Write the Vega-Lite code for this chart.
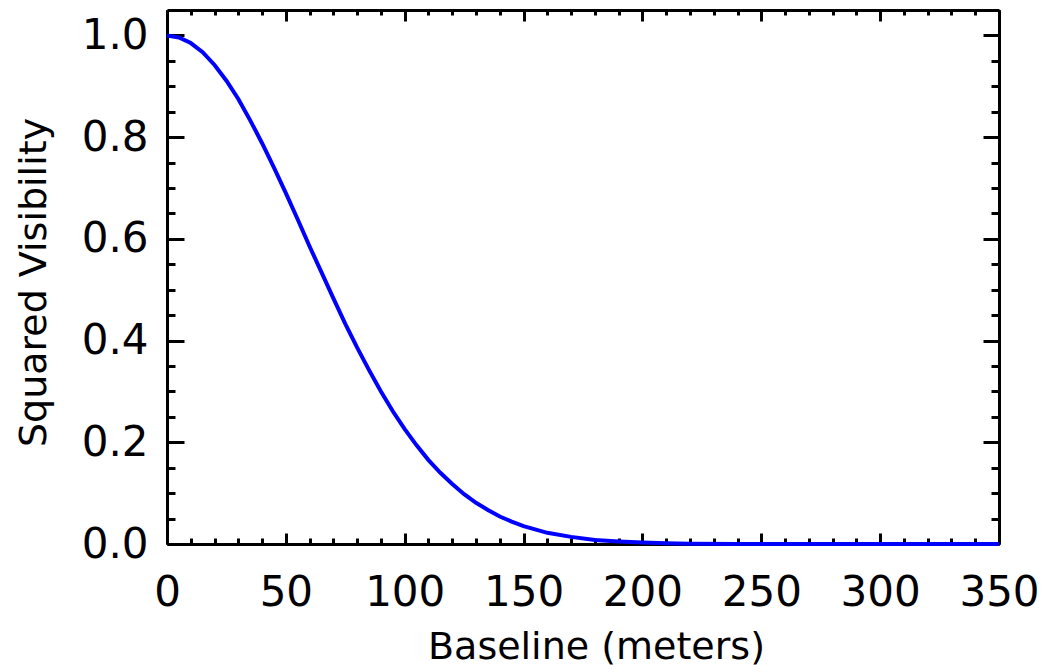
{
  "$schema": "https://vega.github.io/schema/vega-lite/v6.json",
  "width": 832,
  "height": 534,
  "autosize": {"type": "none"},
  "padding": {"left": 167, "top": 10, "right": 45, "bottom": 128},
  "background": "white",
  "config": {
    "view": {"stroke": null},
    "axis": {
      "grid": false,
      "domainColor": "black",
      "domainWidth": 3,
      "tickColor": "black",
      "tickWidth": 3,
      "labelFont": "DejaVu Sans",
      "titleFont": "DejaVu Sans",
      "labelColor": "black",
      "titleColor": "black",
      "titleFontWeight": "normal",
      "labelFontSize": 42,
      "titleFontSize": 38
    }
  },
  "data": {
    "values": [
      {"b": 0, "v": 1.0},
      {"b": 5, "v": 0.996},
      {"b": 10, "v": 0.985},
      {"b": 15, "v": 0.967},
      {"b": 20, "v": 0.942},
      {"b": 25, "v": 0.911},
      {"b": 30, "v": 0.875},
      {"b": 35, "v": 0.833},
      {"b": 40, "v": 0.788},
      {"b": 45, "v": 0.740},
      {"b": 50, "v": 0.690},
      {"b": 55, "v": 0.638},
      {"b": 60, "v": 0.585},
      {"b": 65, "v": 0.534},
      {"b": 70, "v": 0.483},
      {"b": 75, "v": 0.433},
      {"b": 80, "v": 0.386},
      {"b": 85, "v": 0.342},
      {"b": 90, "v": 0.300},
      {"b": 95, "v": 0.261},
      {"b": 100, "v": 0.226},
      {"b": 105, "v": 0.194},
      {"b": 110, "v": 0.165},
      {"b": 115, "v": 0.140},
      {"b": 120, "v": 0.118},
      {"b": 125, "v": 0.098},
      {"b": 130, "v": 0.081},
      {"b": 135, "v": 0.067},
      {"b": 140, "v": 0.054},
      {"b": 145, "v": 0.044},
      {"b": 150, "v": 0.035},
      {"b": 160, "v": 0.022},
      {"b": 170, "v": 0.014},
      {"b": 180, "v": 0.008},
      {"b": 190, "v": 0.005},
      {"b": 200, "v": 0.003},
      {"b": 210, "v": 0.0014},
      {"b": 220, "v": 0.0007},
      {"b": 240, "v": 0.0002},
      {"b": 260, "v": 0.0},
      {"b": 300, "v": 0.0},
      {"b": 350, "v": 0.0}
    ]
  },
  "layer": [
    {
      "mark": {"type": "line", "opacity": 0},
      "encoding": {
        "x": {"field": "b", "type": "quantitative", "scale": {"domain": [0, 350], "nice": false, "zero": false},
          "axis": {"orient": "bottom", "values": [10,20,30,40,60,70,80,90,110,120,130,140,160,170,180,190,210,220,230,240,260,270,280,290,310,320,330,340], "tickSize": -6, "labels": false, "domain": false, "title": null}},
        "y": {"field": "v", "type": "quantitative", "scale": {"domain": [0, 1.05], "nice": false, "zero": false},
          "axis": {"orient": "left", "values": [0.05,0.1,0.15,0.25,0.3,0.35,0.45,0.5,0.55,0.65,0.7,0.75,0.85,0.9,0.95], "tickSize": -8, "labels": false, "domain": false, "title": null}}
      }
    },
    {
      "mark": {"type": "line", "opacity": 0},
      "encoding": {
        "x": {"field": "b", "type": "quantitative", "scale": {"domain": [0, 350], "nice": false, "zero": false},
          "axis": {"orient": "top", "values": [0,10,20,30,40,50,60,70,80,90,100,110,120,130,140,150,160,170,180,190,200,210,220,230,240,250,260,270,280,290,300,310,320,330,340,350], "tickSize": -5, "labels": false, "domain": true, "title": null}},
        "y": {"field": "v", "type": "quantitative", "scale": {"domain": [0, 1.05], "nice": false, "zero": false},
          "axis": {"orient": "right", "values": [0.05,0.1,0.15,0.25,0.3,0.35,0.45,0.5,0.55,0.65,0.7,0.75,0.85,0.9,0.95], "tickSize": -8, "labels": false, "domain": true, "title": null}}
      }
    },
    {
      "mark": {"type": "line", "opacity": 0},
      "encoding": {
        "x": {"field": "b", "type": "quantitative", "scale": {"domain": [0, 350], "nice": false, "zero": false},
          "axis": {"orient": "top", "values": [0,50,100,150,200,250,300,350], "tickSize": -11, "labels": false, "domain": false, "title": null}},
        "y": {"field": "v", "type": "quantitative", "scale": {"domain": [0, 1.05], "nice": false, "zero": false},
          "axis": {"orient": "right", "values": [0,0.2,0.4,0.6,0.8,1.0], "tickSize": -16, "labels": false, "domain": false, "title": null}}
      }
    },
    {
      "mark": {"type": "line", "color": "#0000ff", "strokeWidth": 4},
      "encoding": {
        "x": {"field": "b", "type": "quantitative", "scale": {"domain": [0, 350], "nice": false, "zero": false},
          "axis": {"orient": "bottom", "values": [0,50,100,150,200,250,300,350], "tickSize": -11, "labelPadding": 39, "format": "d", "labelFlush": false, "labelOverlap": false,
            "title": "Baseline (meters)", "titleX": 429, "titleY": 114, "titleAlign": "center", "titleBaseline": "alphabetic"}},
        "y": {"field": "v", "type": "quantitative", "scale": {"domain": [0, 1.05], "nice": false, "zero": false},
          "axis": {"orient": "left", "values": [0,0.2,0.4,0.6,0.8,1.0], "tickSize": -17, "labelPadding": 36, "format": ".1f", "labelFlush": false, "labelOverlap": false,
            "title": "Squared Visibility", "titleX": -122, "titleY": 272, "titleAngle": -90, "titleAlign": "center", "titleBaseline": "alphabetic"}}
      }
    }
  ],
  "resolve": {"axis": {"x": "independent", "y": "independent"}}
}
